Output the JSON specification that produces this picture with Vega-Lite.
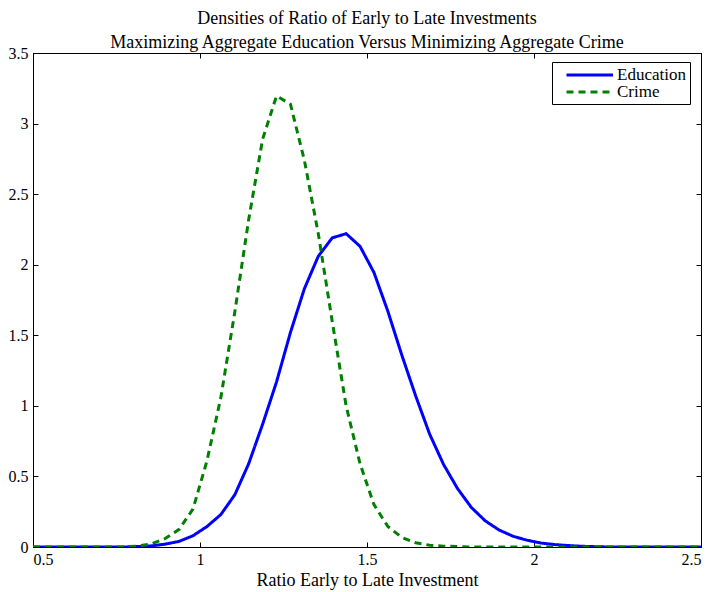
{
  "$schema": "https://vega.github.io/schema/vega-lite/v6.json",
  "width": 668,
  "height": 494,
  "padding": {"left": 8, "top": 10, "right": 5, "bottom": 2},
  "background": "white",
  "config": {
    "font": "Liberation Serif",
    "view": {"stroke": "black", "strokeWidth": 1},
    "axis": {"grid": false, "domainColor": "black", "tickColor": "black", "labelColor": "black", "titleColor": "black", "labelFont": "Liberation Serif", "titleFont": "Liberation Serif", "labelFontSize": 16, "titleFontSize": 18, "titleFontWeight": "normal", "tickSize": -5, "labelPadding": 10}
  },
  "title": {
    "text": ["Densities of Ratio of Early to Late Investments", "Maximizing Aggregate Education Versus Minimizing Aggregate Crime"],
    "font": "Liberation Serif",
    "fontSize": 18,
    "fontWeight": "normal",
    "color": "black",
    "lineHeight": 24,
    "anchor": "middle",
    "offset": -7
  },
  "data": {
    "values": [
      {"x": 0.5, "series": "Education", "y": 0},
      {"x": 0.7708, "series": "Education", "y": 0},
      {"x": 0.8125, "series": "Education", "y": 0.003},
      {"x": 0.8542, "series": "Education", "y": 0.008},
      {"x": 0.8958, "series": "Education", "y": 0.02},
      {"x": 0.9375, "series": "Education", "y": 0.04},
      {"x": 0.9792, "series": "Education", "y": 0.08},
      {"x": 1.0208, "series": "Education", "y": 0.145},
      {"x": 1.0625, "series": "Education", "y": 0.23},
      {"x": 1.1042, "series": "Education", "y": 0.37},
      {"x": 1.1458, "series": "Education", "y": 0.59},
      {"x": 1.1875, "series": "Education", "y": 0.87},
      {"x": 1.2292, "series": "Education", "y": 1.17},
      {"x": 1.2708, "series": "Education", "y": 1.52},
      {"x": 1.3125, "series": "Education", "y": 1.83},
      {"x": 1.3542, "series": "Education", "y": 2.06},
      {"x": 1.3958, "series": "Education", "y": 2.19},
      {"x": 1.4375, "series": "Education", "y": 2.22},
      {"x": 1.4792, "series": "Education", "y": 2.13},
      {"x": 1.5208, "series": "Education", "y": 1.945},
      {"x": 1.5625, "series": "Education", "y": 1.67},
      {"x": 1.6042, "series": "Education", "y": 1.36},
      {"x": 1.6458, "series": "Education", "y": 1.07},
      {"x": 1.6875, "series": "Education", "y": 0.8},
      {"x": 1.7292, "series": "Education", "y": 0.585},
      {"x": 1.7708, "series": "Education", "y": 0.415},
      {"x": 1.8125, "series": "Education", "y": 0.28},
      {"x": 1.8542, "series": "Education", "y": 0.185},
      {"x": 1.8958, "series": "Education", "y": 0.12},
      {"x": 1.9375, "series": "Education", "y": 0.076},
      {"x": 1.9792, "series": "Education", "y": 0.048},
      {"x": 2.0208, "series": "Education", "y": 0.028},
      {"x": 2.0625, "series": "Education", "y": 0.017},
      {"x": 2.1042, "series": "Education", "y": 0.01},
      {"x": 2.1458, "series": "Education", "y": 0.005},
      {"x": 2.1875, "series": "Education", "y": 0.002},
      {"x": 2.2292, "series": "Education", "y": 0},
      {"x": 2.5, "series": "Education", "y": 0},
      {"x": 0.5, "series": "Crime", "y": 0},
      {"x": 0.7292, "series": "Crime", "y": 0},
      {"x": 0.7708, "series": "Crime", "y": 0.001},
      {"x": 0.8125, "series": "Crime", "y": 0.006},
      {"x": 0.8542, "series": "Crime", "y": 0.022},
      {"x": 0.8958, "series": "Crime", "y": 0.06},
      {"x": 0.9375, "series": "Crime", "y": 0.125},
      {"x": 0.9792, "series": "Crime", "y": 0.27},
      {"x": 1.0208, "series": "Crime", "y": 0.61},
      {"x": 1.0625, "series": "Crime", "y": 1.06},
      {"x": 1.1042, "series": "Crime", "y": 1.665},
      {"x": 1.1458, "series": "Crime", "y": 2.32},
      {"x": 1.1875, "series": "Crime", "y": 2.89},
      {"x": 1.2292, "series": "Crime", "y": 3.196},
      {"x": 1.2708, "series": "Crime", "y": 3.137},
      {"x": 1.3125, "series": "Crime", "y": 2.74},
      {"x": 1.3542, "series": "Crime", "y": 2.22},
      {"x": 1.3958, "series": "Crime", "y": 1.6},
      {"x": 1.4375, "series": "Crime", "y": 1.0},
      {"x": 1.4792, "series": "Crime", "y": 0.59},
      {"x": 1.5208, "series": "Crime", "y": 0.3},
      {"x": 1.5625, "series": "Crime", "y": 0.145},
      {"x": 1.6042, "series": "Crime", "y": 0.068},
      {"x": 1.6458, "series": "Crime", "y": 0.03},
      {"x": 1.6875, "series": "Crime", "y": 0.013},
      {"x": 1.7292, "series": "Crime", "y": 0.006},
      {"x": 1.7708, "series": "Crime", "y": 0.003},
      {"x": 1.8125, "series": "Crime", "y": 0},
      {"x": 2.5, "series": "Crime", "y": 0}
    ]
  },
  "layer": [
    {
      "mark": {"type": "line", "strokeWidth": 3, "clip": true},
      "encoding": {
        "x": {"field": "x", "type": "quantitative", "scale": {"domain": [0.5, 2.5], "nice": false, "zero": false},
          "axis": {"orient": "bottom", "values": [0.5, 1, 1.5, 2, 2.5], "format": "~g", "title": "Ratio Early to Late Investment", "titlePadding": 4, "labelPadding": 9}},
        "y": {"field": "y", "type": "quantitative", "scale": {"domain": [0, 3.5], "nice": false},
          "axis": {"orient": "left", "values": [0, 0.5, 1, 1.5, 2, 2.5, 3, 3.5], "format": "~g", "title": null}},
        "color": {"field": "series", "type": "nominal", "sort": ["Education", "Crime"],
          "scale": {"domain": ["Education", "Crime"], "range": ["#0000ff", "#008000"]},
          "legend": {"title": null, "orient": "none", "legendX": 519, "legendY": 9, "strokeColor": "black", "fillColor": "white", "padding": 4, "labelFont": "Liberation Serif", "labelFontSize": 17, "labelColor": "black", "symbolType": "M-1,0H5.2", "symbolSize": 225, "symbolStrokeWidth": 3, "symbolOffset": 9, "rowPadding": -2, "labelOffset": 34}},
        "strokeDash": {"field": "series", "type": "nominal", "sort": ["Education", "Crime"],
          "scale": {"domain": ["Education", "Crime"], "range": [[1, 0], [7, 5]]},
          "legend": {"title": null, "orient": "none", "legendX": 519, "legendY": 9, "strokeColor": "black", "fillColor": "white", "padding": 4, "labelFont": "Liberation Serif", "labelFontSize": 17, "labelColor": "black", "symbolType": "M-1,0H5.2", "symbolSize": 225, "symbolStrokeWidth": 3, "symbolOffset": 9, "rowPadding": -2, "labelOffset": 34}}
      }
    },
    {
      "mark": {"type": "line", "opacity": 0},
      "encoding": {
        "x": {"field": "x", "type": "quantitative", "scale": {"domain": [0.5, 2.5], "nice": false, "zero": false},
          "axis": {"orient": "top", "values": [0.5, 1, 1.5, 2, 2.5], "labels": false, "title": null}},
        "y": {"field": "y", "type": "quantitative", "scale": {"domain": [0, 3.5], "nice": false},
          "axis": {"orient": "right", "values": [0, 0.5, 1, 1.5, 2, 2.5, 3, 3.5], "labels": false, "title": null}},
        "detail": {"field": "series"}
      }
    }
  ],
  "resolve": {"axis": {"x": "independent", "y": "independent"}}
}
